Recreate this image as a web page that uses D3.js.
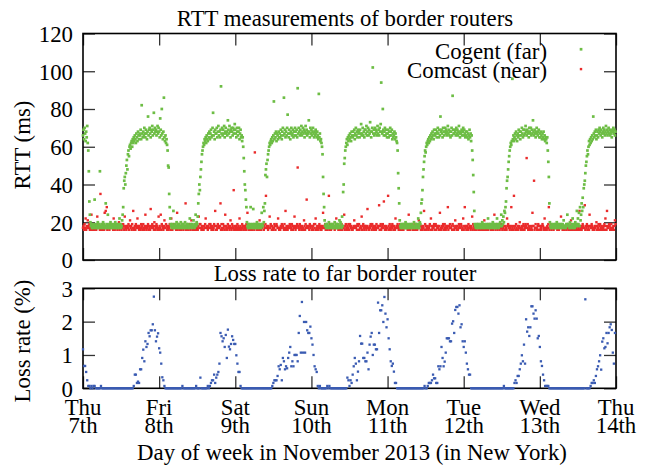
<!doctype html>
<html lang="en-US">
<head>
<meta charset="utf-8">
<title>RTT measurements of border routers</title>
<script src="https://cdn.jsdelivr.net/npm/d3@7"></script>
<style>
  html, body { margin: 0px; padding: 0px; background: #fff; }
  svg text { font-family: "Liberation Serif", serif; font-size: 22.8px; fill: #000; }
</style>
</head>
<body>
<svg id="chart" width="651" height="466" font-family="Liberation Serif, serif"></svg>
<script>
// ---- data ----
// time axis is hours since Thu 7th 00:00 (New York)
var rttStepMin = 10;    // one RTT sample every 10 minutes
var lossStepMin = 20;   // one loss sample every 20 minutes
var dayTicks = [0, 24, 48, 72, 96, 120, 144, 168];
var dayNames = ["Thu", "Fri", "Sat", "Sun", "Mon", "Tue", "Wed", "Thu"];
var dayDates = ["7th", "8th", "9th", "10th", "11th", "12th", "13th", "14th"];
var rttTicks = [0, 20, 40, 60, 80, 100, 120];
var lossTicks = [0, 1, 2, 3];

// Cogent (far) RTT in ms, one row per day
var cogentRtt = [
  // Thu 7th
  66,69,64,70,67,63, 68,65,71,62,58,47, 31,24,20,18,19,17, 18,17,19,18,32,17, 18,19,17,18,20,17, 19,18,47,17,18,19, 18,17,20,18,19,17, 18,30,17,19,18,24, 17,18,19,17,20,18, 19,17,18,18,17,19, 18,20,17,19,18,17, 18,19,17,22,18,19,
  17,18,21,24,28,38, 42,44,40,46,50,53, 48,56,58,55,60,61, 59,62,63,60,64,62, 65,63,66,64,62,67, 65,63,68,66,64,67, 66,69,64,82,67,65, 68,66,70,67,65,69, 67,64,68,76,66,69, 70,67,65,69,68,71, 66,69,78,67,70,68, 69,66,68,71,67,70,
  // Fri 8th
  68,65,75,69,66,80, 67,64,68,86,65,63, 66,62,64,61,58,50, 49,35,28,22,19,18, 17,19,18,26,17,18, 19,18,17,20,18,19, 17,18,19,18,17,20, 18,17,19,18,19,17, 18,20,17,18,19,18, 17,19,18,17,22,18, 19,18,17,19,18,21, 18,17,19,24,18,20,
  19,23,30,35,40,37, 44,48,52,56,58,60, 62,61,64,63,65,62, 66,64,63,67,65,68, 64,67,69,65,66,70, 78,66,68,64,69,67, 67,70,65,68,71,66, 68,65,69,92,67,70, 66,69,67,71,65,68, 70,67,68,66,74,69, 67,71,68,65,69,70, 68,66,70,67,69,72,
  // Sat 9th
  69,67,65,70,68,66, 68,70,64,67,69,65, 66,63,65,60,54,47, 40,37,32,28,20,18, 17,19,18,17,19,28, 18,17,19,18,27,17, 19,18,17,19,18,20, 17,18,19,17,18,19, 18,17,25,19,18,28, 20,26,30,45,48,51, 44,53,56,58,60,62, 61,63,64,62,65,63,
  66,84,64,67,65,68, 63,67,66,64,68,65, 67,65,69,66,64,68, 70,66,86,67,69,65, 68,66,70,77,67,65, 69,67,64,68,70,66, 67,69,65,68,66,70, 68,66,69,65,91,67, 70,68,66,69,67,71, 66,68,70,67,69,65, 68,71,67,69,66,68, 67,74,68,65,70,67,
  // Sun 10th
  69,66,68,70,67,65, 68,66,69,67,65,68, 66,64,88,65,67,63, 64,62,60,56,44,35, 28,21,18,19,17,18, 19,17,18,20,18,17, 18,19,17,18,19,18, 17,18,20,17,19,18, 19,17,18,19,17,21, 18,20,19,17,23,18, 36,40,51,54,58,60, 62,64,61,65,63,66,
  64,67,65,63,68,66, 65,68,66,69,64,67, 70,66,68,65,69,67, 68,65,69,67,72,66, 67,70,66,68,65,69, 69,67,71,66,68,70, 66,69,67,73,68,65, 68,70,102,67,69,66, 70,67,69,68,66,71, 67,69,66,70,68,72, 94,68,67,80,69,66, 68,70,66,69,67,65,
  // Mon 11th
  67,69,65,68,66,70, 68,66,69,64,67,65, 66,68,64,67,65,63, 62,58,46,38,30,21, 18,17,19,18,17,19, 18,19,17,18,20,17, 19,18,17,19,18,18, 17,19,18,17,19,18, 18,17,20,18,17,19, 19,18,17,19,22,18, 17,20,19,25,30,32, 37,44,48,52,55,58,
  57,60,62,61,63,64, 62,65,63,66,64,67, 65,68,66,64,69,67, 66,69,67,65,68,70, 67,65,69,66,76,68, 69,67,65,70,68,66, 68,70,67,69,66,68, 71,67,69,66,68,65, 68,70,66,87,69,67, 67,69,68,66,70,67, 69,66,68,71,67,65, 68,67,69,66,68,70,
  // Tue 12th
  66,69,67,65,68,66, 68,65,67,64,66,69, 65,67,63,66,58,53, 45,36,26,19,18,17, 18,19,17,18,19,18, 17,18,19,17,18,20, 19,17,18,19,17,18, 18,19,17,18,22,19, 17,18,19,17,18,19, 18,20,17,19,18,17, 19,18,17,22,19,18, 17,19,18,20,18,24,
  18,21,19,23,20,26, 25,28,31,38,42,44, 48,52,55,58,60,62, 61,63,96,64,66,63, 65,67,64,68,66,63, 67,65,69,66,68,64, 68,66,70,67,65,69, 66,69,67,71,68,66, 69,67,68,65,70,68, 67,70,66,69,67,74, 68,66,69,67,65,68, 70,67,66,68,69,65,
  // Wed 13th
  67,65,68,66,64,67, 65,68,64,66,63,65, 64,62,65,58,52,44, 30,20,18,17,19,18, 17,18,19,18,17,19, 18,17,20,19,18,17, 19,18,17,18,19,18, 17,19,18,21,17,18, 18,17,19,18,24,19, 19,18,17,20,18,17, 18,19,22,17,18,19, 17,20,18,19,26,18,
  22,19,25,18,28,21, 24,30,26,33,28,38, 40,42,46,50,52,55, 58,56,60,63,61,64, 62,65,63,66,64,76, 67,65,68,66,69,64, 66,68,65,69,67,70, 68,66,69,67,65,68, 70,67,69,66,68,71, 67,69,66,68,70,67, 69,66,68,67,65,69, 68,70,67,69,66,68
];

// Comcast (near) RTT in ms, one row per day
var comcastRtt = [
  // Thu 7th
  17,18,16,19,17,22, 16,18,17,21,18,17, 19,16,18,17,24,16, 18,17,19,16,18,17, 17,16,18,23,17,19, 18,17,16,35,18,17, 16,19,17,18,16,25, 18,26,17,28,16,18, 17,18,16,19,17,18, 19,17,18,16,22,17, 16,18,17,19,18,16, 18,17,20,16,17,19,
  17,16,18,17,19,18, 16,23,17,18,16,17, 18,17,19,16,18,21, 17,18,16,19,17,26, 16,17,18,16,19,17, 18,22,17,18,16,18, 17,16,19,17,18,16, 19,17,16,18,24,17, 16,18,17,19,16,18, 17,16,27,18,17,19, 18,17,16,20,18,16, 17,19,18,16,17,23,
  // Fri 8th
  16,18,17,24,16,19, 18,17,16,18,21,17, 17,19,18,16,17,18, 16,17,19,18,16,22, 18,16,17,19,18,17, 17,18,16,17,25,16, 19,17,18,16,17,18, 16,18,17,19,16,17, 18,17,30,16,18,19, 17,16,18,17,19,16, 18,21,17,16,18,17, 16,18,19,17,16,18,
  17,16,18,23,17,19, 19,17,16,18,17,16, 16,18,17,19,22,17, 18,17,16,18,17,19, 17,19,18,16,17,18, 16,17,19,18,26,16, 18,16,17,19,18,17, 17,18,30,16,19,17, 16,19,17,18,16,24, 18,17,16,17,19,18, 17,16,18,21,17,16, 19,18,17,37,16,18,
  // Sat 9th
  17,16,18,17,19,16, 18,17,22,16,18,17, 16,19,17,18,16,18, 17,18,16,19,17,25, 19,16,18,17,16,18, 17,18,16,18,17,19, 16,57,17,19,18,16, 18,17,19,16,21,17, 17,16,18,17,19,18, 16,18,17,19,34,17, 18,17,16,18,17,23, 17,19,18,16,18,17,
  16,17,19,18,16,18, 19,18,17,22,17,16, 17,16,18,17,19,18, 18,17,16,19,17,26, 16,18,17,16,18,17, 17,19,18,17,16,19, 18,16,17,18,23,17, 16,18,17,19,49,18, 17,16,19,18,17,16, 18,17,16,17,21,18, 16,19,17,32,18,17, 17,18,16,19,17,18,
  // Sun 10th
  18,16,17,18,16,19, 17,19,22,16,17,18, 16,17,18,19,17,16, 18,16,17,18,25,17, 17,18,19,16,18,17, 16,17,18,34,16,19, 18,16,17,18,19,17, 17,18,16,17,18,22, 19,17,18,16,17,18, 16,18,17,19,16,17, 18,17,24,16,18,19, 17,16,18,17,19,16,
  18,19,17,18,16,17, 16,17,18,21,17,18, 17,18,16,19,18,16, 19,16,17,18,17,23, 16,18,19,17,16,18, 18,17,16,18,27,17, 17,16,18,17,19,18, 16,19,17,18,16,17, 18,17,16,19,17,18, 17,18,29,16,18,19, 16,17,18,19,17,31, 18,16,17,18,16,17,
  // Mon 11th
  17,34,18,16,19,17, 16,18,17,19,18,16, 18,17,16,22,17,18, 17,19,18,16,17,16, 19,16,17,18,16,18, 16,18,19,17,18,17, 18,17,16,18,24,16, 17,16,18,17,19,18, 16,18,17,19,16,17, 18,17,16,18,17,21, 17,19,18,16,18,17, 16,18,17,26,16,19,
  18,16,17,18,17,16, 17,18,19,16,22,18, 16,17,18,17,19,16, 18,19,16,18,17,18, 17,16,18,25,16,17, 16,18,17,19,18,16, 19,17,16,18,17,18, 28,16,18,17,19,17, 17,18,16,19,16,18, 16,17,21,18,17,16, 18,16,17,19,18,17, 17,19,18,16,17,22,
  // Tue 12th
  16,18,28,17,18,16, 18,17,16,19,17,18, 17,16,18,17,23,16, 19,18,17,16,18,17, 16,17,19,18,16,18, 18,16,17,17,19,16, 17,18,16,21,17,18, 16,17,18,19,16,17, 18,19,17,16,18,16, 17,16,18,17,24,18, 16,18,17,19,16,17, 18,17,16,18,17,19,
  17,16,19,17,18,16, 16,18,17,16,22,18, 19,17,18,16,17,18, 28,16,17,18,16,34, 17,18,16,19,17,16, 18,16,17,18,20,17, 16,17,18,17,16,19, 18,16,17,19,18,54, 17,19,16,18,17,16, 16,18,17,16,25,18, 18,42,16,17,19,17, 17,16,18,19,16,18,
  // Wed 13th
  16,18,17,16,18,19, 18,17,16,22,17,16, 17,16,18,17,19,28, 16,18,17,19,16,17, 18,17,16,18,17,18, 17,19,18,16,18,16, 16,17,19,17,23,18, 18,16,17,18,16,17, 17,18,16,19,17,18, 16,17,18,16,18,21, 19,16,17,18,17,16, 17,18,16,17,19,18,
  16,17,18,26,16,17, 18,16,17,19,18,17, 17,29,16,18,17,19, 16,18,17,16,24,18, 18,17,19,18,16,17, 17,16,18,17,18,20, 16,18,17,19,16,18, 19,17,16,18,17,16, 17,18,19,16,22,18, 16,26,17,18,17,19, 18,16,17,19,16,17, 17,18,16,18,21,19
];

// loss rate to the far border router in %, one row per day
var lossRate = [
  // Thu 7th
  1.17,0.67,0.67,0.49,0.24,0.07,0.07,0,0.07,0,0.07,0.07, 0,0,0,0,0,0.07,0,0,0,0,0,0, 0,0,0,0,0,0,0,0,0,0,0,0,
  0,0,0,0,0,0,0,0,0,0,0,0, 0.07,0.41,0.41,0.16,0.2,0.16,0.57,0.57,0.91,1.16,0.81,1.41, 1.24,1.33,1.66,1.56,1.74,1.74,1.92,2.75,1.74,1.41,1.55,1.65,
  // Fri 8th
  1.2,1.07,0.74,0.33,0.24,0.07,0,0,0,0,0,0, 0,0,0,0,0,0,0,0,0,0,0.07,0, 0,0,0,0,0,0,0,0,0,0,0,0.07,
  0,0,0,0.32,0,0,0,0,0,0,0.07,0, 0.07,0.16,0.24,0.24,0.41,0.16,0.32,0.41,0.49,0.74,1.66,1.56, 1.41,1.5,1.24,1.6,0.91,1.76,1.25,1.17,1.33,1.56,1.45,1.33,
  // Sat 9th
  1.33,0.99,0.74,0.49,0.49,0.07,0,0,0,0,0,0, 0,0,0,0,0,0,0,0,0,0,0,0, 0,0,0,0,0,0,0,0,0,0,0,0.07,
  0.16,0.24,0.24,0.24,0.37,0.66,0.57,0.7,0.24,0.91,0.81,0.57, 0.66,0.6,0.91,1.07,1.24,0.66,0.81,0.66,1.0,1.0,1.0,0.81, 1.66,2.17,1.07,2.59,1.07,1.99,1.07,1.99,1.74,1.66,1.66,1.85,
  // Sun 10th
  1.5,1.31,1.0,0.66,0.57,0.49,0.07,0,0.07,0,0,0, 0,0,0,0.07,0,0.07,0,0,0,0,0,0, 0,0,0,0,0,0,0,0,0,0,0.32,0.24,
  0.07,0.24,0.16,0.41,0.66,0.91,0.74,0.24,0.5,0.81,1.57,1.34, 1.34,0.91,0.91,0.81,0.81,1.07,0.57,1.31,1.55,1.66,1.0,1.31, 1.31,1.17,1.17,2.57,1.66,2.34,2.34,2.49,1.99,2.74,2.24,1.83,
  // Mon 11th
  2.07,1.5,1.17,0.81,0.67,0.74,0.5,0.16,0.16,0,0,0, 0,0,0,0,0,0,0,0,0,0,0,0, 0,0,0,0,0,0,0,0,0,0,0,0.07,
  0,0,0.07,0.16,0.16,0.16,0.24,0.41,0.3,0.3,0.16,0.16, 0.66,0.57,0.66,1.24,0.91,0.66,0.8,1.07,1.5,1.5,1.5,1.41, 1.41,1.94,2.01,1.66,2.35,2.44,2.44,2.24,2.49,1.83,1.92,1.41,
  // Tue 12th
  1.24,1.41,1.07,0.74,0.57,0.41,0.41,0,0,0,0,0, 0,0,0,0,0,0,0,0,0,0,0,0, 0,0,0,0,0,0,0,0,0,0,0,0,
  0,0,0.07,0,0,0,0,0,0,0,0,0, 0.16,0.24,0.16,0.37,0.37,0.57,0.74,0.99,0.81,1.31,0.74,2.07, 1.7,1.83,1.57,1.83,2.46,2.46,2.24,2.09,2.34,2.09,1.5,1.57,
  // Wed 13th
  1.24,0.81,0.67,0.41,0.24,0.07,0.07,0.07,0.07,0,0,0, 0,0,0,0,0,0,0,0,0,0,0,0, 0,0,0,0,0,0,0,0,0,0,0,0,
  0,0,0,0,0,0,0,2.67,0,0,0,0, 0.07,0.16,0.16,0.24,0.16,0.37,0.57,0.66,0.81,0.99,0.56,1.4, 1.5,1.2,1.24,1.66,1.35,1.66,1.83,1.92,1.75,1.07,0.74,1.66
];

var green = "#6dbd45", red = "#ea2b2b", blue = "#3a5bb2";
var serif = "Liberation Serif, serif";

// ---- layout ----
var svg = d3.select("#chart");
var left = 83, right = 616;
var top1 = 33.5, bot1 = 260;     // RTT panel
var top2 = 288.3, bot2 = 388.3;  // loss panel

svg.append("rect").attr("width", 651).attr("height", 466).attr("fill", "#fff");

var x = d3.scaleLinear().domain([0, 168]).range([left, right]);
var yRtt = d3.scaleLinear().domain([0, 120]).range([bot1, top1]);
var yLoss = d3.scaleLinear().domain([0, 3]).range([bot2, top2]);

function styleAxis(g) {
  g.attr("font-family", serif).attr("font-size", 22.8);
  g.select(".domain").remove();
  g.selectAll(".tick line").attr("stroke", "#333").attr("stroke-width", 1.3);
  g.selectAll(".tick text")
    .attr("font-family", serif)
    .attr("fill", "#000")
    .attr("dy", "0.34em");
}

function panel(yScale, yTicks, yTop, yBot) {
  var g = svg.append("g");
  g.append("g").attr("transform", "translate(0," + yBot + ")")
    .call(d3.axisBottom(x).tickValues(dayTicks).tickSize(-12).tickSizeOuter(0).tickFormat(""))
    .call(styleAxis);
  g.append("g").attr("transform", "translate(0," + yTop + ")")
    .call(d3.axisTop(x).tickValues(dayTicks).tickSize(-12).tickSizeOuter(0).tickFormat(""))
    .call(styleAxis);
  g.append("g").attr("transform", "translate(" + left + ",0)")
    .call(d3.axisLeft(yScale).tickValues(yTicks).tickSize(-12).tickSizeOuter(0)
      .tickPadding(10).tickFormat(d3.format("d")))
    .call(styleAxis);
  g.append("g").attr("transform", "translate(" + right + ",0)")
    .call(d3.axisRight(yScale).tickValues(yTicks).tickSize(-12).tickSizeOuter(0).tickFormat(""))
    .call(styleAxis);
  g.append("rect")
    .attr("x", left).attr("y", yTop)
    .attr("width", right - left).attr("height", yBot - yTop)
    .attr("fill", "none").attr("stroke", "#000").attr("stroke-width", 1.6);
}

function dots(data, stepMin, yScale, color, size) {
  svg.append("g").attr("fill", color)
    .selectAll("rect").data(data).join("rect")
    .attr("x", function(d, i) { return x(i * stepMin / 60) - size / 2; })
    .attr("y", function(d) { return yScale(d) - size / 2; })
    .attr("width", size).attr("height", size);
}

panel(yRtt, rttTicks, top1, bot1);
panel(yLoss, lossTicks, top2, bot2);

dots(comcastRtt, rttStepMin, yRtt, red, 2.4);
dots(cogentRtt, rttStepMin, yRtt, green, 2.7);
dots(lossRate, lossStepMin, yLoss, blue, 2.3);

function label(xPos, yPos, str, anchor) {
  return svg.append("text")
    .attr("x", xPos).attr("y", yPos)
    .attr("font-family", serif)
    .attr("text-anchor", anchor || "middle")
    .text(str);
}

// titles
label(345, 25.5, "RTT measurements of border routers");
label(345, 280.5, "Loss rate to far border router");

// legend
label(547, 58.5, "Cogent (far)", "end");
label(547, 77.5, "Comcast (near)", "end");
svg.append("rect").attr("x", 579.7).attr("y", 47.9).attr("width", 2.7).attr("height", 2.7).attr("fill", green);
svg.append("rect").attr("x", 579.8).attr("y", 67.9).attr("width", 2.4).attr("height", 2.4).attr("fill", red);

// day labels under the loss panel
var labels = svg.append("g").attr("text-anchor", "middle").attr("font-family", serif);
labels.selectAll("text.day").data(dayTicks).join("text")
  .attr("class", "day")
  .attr("x", function(d) { return x(d); })
  .attr("y", bot2 + 26.7)
  .text(function(d, i) { return dayNames[i]; });
labels.selectAll("text.date").data(dayTicks).join("text")
  .attr("class", "date")
  .attr("x", function(d) { return x(d); })
  .attr("y", bot2 + 44.5)
  .text(function(d, i) { return dayDates[i]; });

// axis titles
label(352, 459.5, "Day of week in November 2013 (in New York)");
svg.append("text").attr("transform", "translate(30,145) rotate(-90)")
  .attr("font-family", serif).attr("text-anchor", "middle").text("RTT (ms)");
svg.append("text").attr("transform", "translate(30,341) rotate(-90)")
  .attr("font-family", serif).attr("text-anchor", "middle").text("Loss rate (%)");
</script>
</body>
</html>
